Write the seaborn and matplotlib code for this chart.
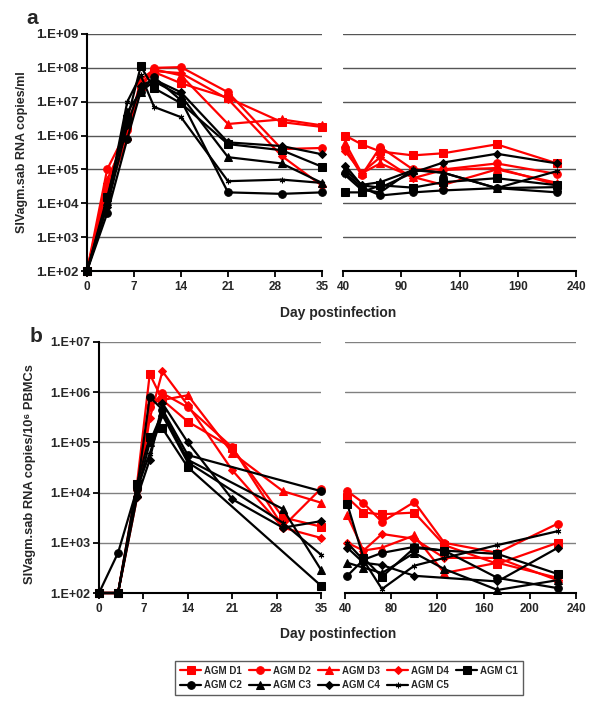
import numpy as np
import pandas as pd
import matplotlib
matplotlib.use('Agg')
import matplotlib.pyplot as plt
import seaborn as sns
from matplotlib.ticker import FuncFormatter, NullLocator

nan = np.nan

animals = ['AGM D1', 'AGM D2', 'AGM D3', 'AGM D4', 'AGM C1',
           'AGM C2', 'AGM C3', 'AGM C4', 'AGM C5']

# sampling days (first 9 in the 0-35 window, the rest in the 40-240 window)
days = [0, 3, 6, 8, 10, 14, 21, 29, 35, 42, 56, 72, 100, 126, 172, 224]

# panel a : plasma viral load (copies/ml)
plasma_D1 = [1e2, 3e4, 2e6, 3e7, 7.5e7, 3.5e7, 1.3e7, 2.5e6, 1.8e6, 1e6, 5.5e5, 3.4e5, 2.6e5, 3e5, 5.5e5, 1.5e5]
plasma_D2 = [1e2, 1e5, 1.5e6, 2.5e7, 1e8, 1.05e8, 1.9e7, 4e5, 4.3e5, 4.3e5, 6.7e4, 4.6e5, 1e5, 1e5, 1.5e5, 7.3e4]
plasma_D3 = [1e2, 5e4, 1e6, 4.5e7, 9e7, 6e7, 2.2e6, 3e6, 2e6, 6e5, 7.7e4, 1.5e5, 6e4, 3.5e4, 1e5, 4e4]
plasma_D4 = [1e2, 2e4, 8e5, 3.5e7, 8e7, 7e7, 1.2e7, 2.5e5, 3.3e4, 3.4e5, 8e4, 2.3e5, 5.5e4, 9.6e4, 1.1e5, 3.5e4]
plasma_C1 = [1e2, 1.5e4, 3e6, 1.1e8, 2.5e7, 9e6, 5.6e5, 3.7e5, 1.2e5, 2.1e4, 2.1e4, 3.4e4, 2.9e4, 4.2e4, 5.5e4, 3.4e4]
plasma_C2 = [1e2, 5e3, 8e5, 2e7, 5.3e7, 1.1e7, 2.1e4, 1.9e4, 2.1e4, 7.7e4, 3e4, 1.7e4, 2.1e4, 2.4e4, 2.8e4, 2.1e4]
plasma_C3 = [1e2, 1.2e4, 5e6, 2e7, 4e7, 1.5e7, 2.3e5, 1.5e5, 4e4, 9.5e4, 3.5e4, 4.2e4, 9.5e4, 8e4, 2.8e4, 3e4]
plasma_C4 = [1e2, 8e3, 2e6, 3e7, 4.5e7, 1.9e7, 6.3e5, 4.9e5, 2.8e5, 1.3e5, 3.4e4, 2.9e4, 8e4, 1.6e5, 2.9e5, 1.5e5]
plasma_C5 = [1e2, 1e4, 1e7, 6e7, 7e6, 3.5e6, 4.5e4, 5e4, 4e4, 6.7e4, 2.5e4, 2.1e4, 1e5, 8e4, 2.8e4, 9e4]

# panel b : cell-associated viral load (copies/10^6 PBMCs)
pbmc_D1 = [1e2, 1e2, 1.5e4, 2.3e6, 7e5, 2.6e5, 7.8e4, 3.2e3, 2.1e3, 8e3, 4e3, 3.7e3, 4e3, 9e2, 3.8e2, 1e3]
pbmc_D2 = [1e2, 1e2, 1.2e4, 5e5, 9.5e5, 5e5, 8e4, 2.1e3, 1.2e4, 1.07e4, 6.2e3, 2.6e3, 6.5e3, 1e3, 6.3e2, 2.4e3]
pbmc_D3 = [1e2, 1e2, 1e4, 6e5, 7e5, 8.7e5, 6.2e4, 1.07e4, 6.3e3, 3.5e3, 7e2, 8e2, 1.4e3, 2.5e2, 4e2, 2e2]
pbmc_D4 = [1e2, 1e2, 8e3, 3e5, 2.6e6, 5.5e5, 2.8e4, 2e3, 1.25e3, 1e3, 7e2, 1.5e3, 1.2e3, 5e2, 5e2, 1.8e2]
pbmc_C1 = [1e2, 1e2, 1.5e4, 1.3e5, 1.9e5, 3.2e4, nan, nan, 1.4e2, 5.9e3, 5e2, 2.1e2, 7.9e2, 7e2, 6e2, 2.4e2]
pbmc_C2 = [1e2, 6.3e2, 1.2e4, 8e5, 4.5e5, 5.6e4, nan, nan, 1.07e4, 2.2e2, 4.6e2, 6.3e2, 8.3e2, 7e2, 2e2, 1.25e2]
pbmc_C3 = [1e2, 1e2, 1e4, 1e5, 4e5, 4.5e4, nan, 4.7e3, 2.9e2, 4e2, 3.2e2, 2.5e2, 6.3e2, 3e2, 1.15e2, 1.8e2]
pbmc_C4 = [1e2, 1e2, 8e3, 4.5e4, 6e5, 1e5, 7.4e3, 2e3, 2.7e3, 8e2, 4e2, 3.6e2, 2.2e2, nan, 1.7e2, 7.9e2]
pbmc_C5 = [1e2, 1e2, 1.2e4, 6e4, 3.5e5, 4e4, nan, 2.5e3, 5.8e2, 1e3, 4.5e2, 1.2e2, 3.5e2, 5e2, 9e2, 1.7e3]

ticks_early = [0, 7, 14, 21, 28, 35]
ticks_late_a = [40, 90, 140, 190, 240]
ticks_late_b = [40, 80, 120, 160, 200, 240]

colors = {a: ('#FF0000' if 'D' in a else '#000000') for a in animals}
markers = {'AGM D1': 's', 'AGM D2': 'o', 'AGM D3': '^', 'AGM D4': 'D',
           'AGM C1': 's', 'AGM C2': 'o', 'AGM C3': '^', 'AGM C4': 'D', 'AGM C5': '*'}


def long_table(series):
    rows = []
    for name, vals in series.items():
        for d, v in zip(days, vals):
            rows.append((name, d, v))
    return pd.DataFrame(rows, columns=['animal', 'day', 'value']).dropna()


plasma = long_table(dict(zip(animals, [plasma_D1, plasma_D2, plasma_D3, plasma_D4, plasma_C1,
                                       plasma_C2, plasma_C3, plasma_C4, plasma_C5])))
pbmc = long_table(dict(zip(animals, [pbmc_D1, pbmc_D2, pbmc_D3, pbmc_D4, pbmc_C1,
                                     pbmc_C2, pbmc_C3, pbmc_C4, pbmc_C5])))

sns.set_style('white')
plt.rcParams['font.family'] = ['Liberation Sans', 'DejaVu Sans']
plt.rcParams['font.weight'] = 'bold'


def fix_lines(lines):
    for ln in lines:
        ln.set_markeredgecolor(ln.get_color())
        ln.set_clip_on(False)
        if ln.get_marker() == '*':
            ln.set_marker((6, 2, 0))
            ln.set_markersize(4)
            ln.set_markeredgewidth(0.8)
        elif ln.get_marker() == 'D':
            ln.set_markersize(4.2)


def draw(ax, data, lo, hi, legend=False):
    sub = data[(data.day >= lo) & (data.day <= hi)]
    sns.lineplot(data=sub, x='day', y='value', hue='animal', style='animal',
                 hue_order=animals, style_order=animals, palette=colors,
                 markers=markers, dashes=False, estimator=None, sort=True,
                 linewidth=1.6, markersize=5.5, legend=legend, ax=ax)
    fix_lines(ax.lines)


def style(ax, ylim, xticks, left, gridc, ysize):
    ax.set_yscale('log')
    ax.set_ylim(*ylim)
    ax.set_xlim(xticks[0], xticks[-1])
    ax.set_xticks(xticks)
    dec = 10.0 ** np.arange(np.log10(ylim[0]), np.log10(ylim[1]) + 1)
    ax.set_yticks(dec)
    ax.yaxis.set_minor_locator(NullLocator())
    ax.yaxis.set_major_formatter(FuncFormatter(lambda v, _: f'1.E+{int(round(np.log10(v))):02d}'))
    ax.set_axisbelow(True)
    ax.grid(axis='y', color=gridc, lw=1)
    ax.grid(axis='x', visible=False)
    ax.set_xlabel('')
    ax.set_ylabel('')
    for s in ['top', 'right']:
        ax.spines[s].set_visible(False)
    ax.spines['bottom'].set_linewidth(1.5)
    ax.spines['bottom'].set_color('black')
    ax.tick_params(axis='x', direction='out', length=4, width=1.3, pad=3,
                   labelsize=8.5, bottom=True, color='black')
    if left:
        ax.spines['left'].set_linewidth(1.5)
        ax.spines['left'].set_color('black')
        ax.tick_params(axis='y', direction='out', length=4, width=1.3, pad=2,
                       labelsize=ysize, left=True, color='black')
    else:
        ax.spines['left'].set_visible(False)
        ax.tick_params(axis='y', left=False, labelleft=False)


fig = plt.figure(figsize=(6, 7.15), dpi=100)
W, H = 600.0, 715.0


def box(x0, x1, y0, y1):
    return [x0 / W, 1 - y1 / H, (x1 - x0) / W, (y1 - y0) / H]


ax_a1 = fig.add_axes(box(87, 322, 34, 271))
ax_a2 = fig.add_axes(box(343, 576, 34, 271))
ax_b1 = fig.add_axes(box(99, 321, 342, 593))
ax_b2 = fig.add_axes(box(345, 576, 342, 593))

draw(ax_a1, plasma, 0, 35, legend=True)
draw(ax_a2, plasma, 40, 240)
draw(ax_b1, pbmc, 0, 35)
draw(ax_b2, pbmc, 40, 240)

handles, labels = ax_a1.get_legend_handles_labels()
ax_a1.get_legend().remove()
fix_lines(handles)

style(ax_a1, (1e2, 1e9), ticks_early, True, '#555555', 9.5)
style(ax_a2, (1e2, 1e9), ticks_late_a, False, '#555555', 9.5)
style(ax_b1, (1e2, 1e7), ticks_early, True, '#808080', 9)
style(ax_b2, (1e2, 1e7), ticks_late_b, False, '#808080', 9)

fig.text(32 / W, 1 - 18 / H, 'a', fontsize=15, weight='bold', ha='center', va='center')
fig.text(36 / W, 1 - 337 / H, 'b', fontsize=15, weight='bold', ha='center', va='center')
fig.text(338 / W, 1 - 313 / H, 'Day postinfection', fontsize=10, weight='bold', ha='center', va='center')
fig.text(338 / W, 1 - 634 / H, 'Day postinfection', fontsize=10, weight='bold', ha='center', va='center')
fig.text(22 / W, 1 - 152 / H, 'SIVagm.sab RNA copies/ml', fontsize=9, weight='bold',
         rotation=90, ha='center', va='center')
fig.text(30 / W, 1 - 474 / H, 'SIVagm.sab RNA copies/10⁶ PBMCs', fontsize=9.3, weight='bold',
         rotation=90, ha='center', va='center')

# legend fills row by row in the original: reorder for matplotlib's column-first fill
order = [0, 5, 1, 6, 2, 7, 3, 8, 4]
leg = fig.legend([handles[i] for i in order], [labels[i] for i in order], ncol=5,
                 loc='center', bbox_to_anchor=(349 / W, 1 - 678 / H),
                 frameon=True, fancybox=False, edgecolor='#333333', fontsize=7,
                 handlelength=2.2, handletextpad=0.3, columnspacing=0.7,
                 borderpad=0.5, labelspacing=0.45)
leg.get_frame().set_linewidth(1)

fig.savefig('out.png', dpi=100)
